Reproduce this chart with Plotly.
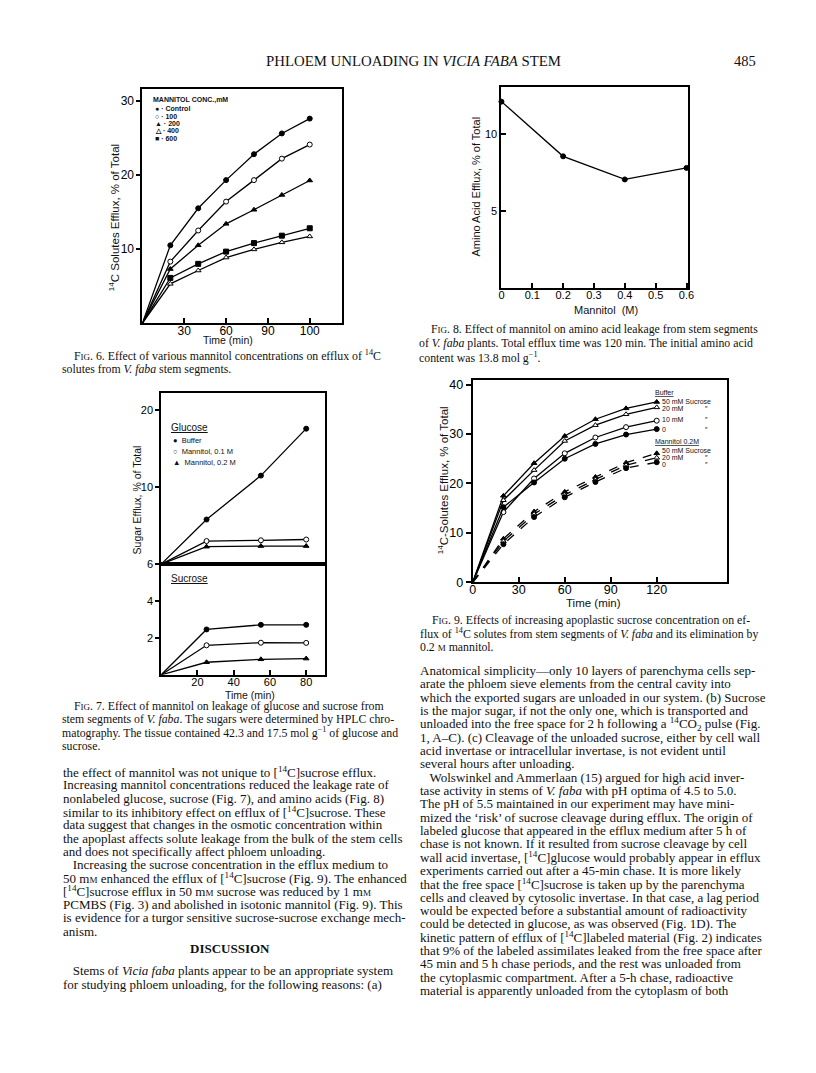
import plotly.graph_objects as go

W, H = 816, 1073
SERIF = "Liberation Serif"
SANS = "Liberation Sans"

# ---- Fig. 6: efflux of 14C solutes vs time, by mannitol conc.
t6 = [0, 20, 40, 60, 80, 100, 120]
t6_ticks = [30, 60, 90, 120]
t6_labels = ["30", "60", "90", "100"]
control = [0, 10.5, 15.5, 19.3, 22.8, 25.6, 27.6]
mann100 = [0, 8.3, 12.5, 16.4, 19.3, 22.2, 24.1]
mann200 = [0, 7.3, 10.5, 13.4, 15.3, 17.3, 19.25]
mann400 = [0, 5.3, 7.1, 8.85, 9.95, 10.9, 11.7]
mann600 = [0, 6.1, 8.0, 9.65, 10.8, 11.8, 12.8]

# ---- Fig. 8: amino acid efflux vs mannitol
mannitol_M = [0, 0.2, 0.4, 0.6]
amino_efflux = [12.1, 8.55, 7.05, 7.8]

# ---- Fig. 7: glucose / sucrose efflux
t7 = [0, 25, 55, 80]
glc_buffer = [0, 5.8, 11.5, 17.6]
glc_mann01 = [0, 3.0, 3.1, 3.2]
glc_mann02 = [0, 2.27, 2.35, 2.35]
suc_buffer = [0, 2.46, 2.71, 2.71]
suc_mann01 = [0, 1.6, 1.74, 1.73]
suc_mann02 = [0, 0.68, 0.84, 0.88]

# ---- Fig. 9: apoplastic sucrose
t9 = [0, 20, 40, 60, 80, 100, 120]
buf50 = [0, 17.5, 24.1, 29.6, 33.0, 35.2, 36.5]
buf20 = [0, 16.6, 22.7, 28.6, 31.8, 34.0, 35.4]
buf10 = [0, 14.2, 21.0, 26.1, 29.3, 31.4, 32.7]
buf0 = [0, 15.2, 20.2, 25.0, 28.0, 29.9, 31.0]
man50 = [0, 8.8, 14.3, 18.3, 21.3, 24.2, 26.1]
man20 = [0, 8.3, 13.8, 17.7, 20.8, 23.7, 25.2]
man0 = [0, 7.7, 13.2, 17.2, 20.3, 23.1, 24.3]

SC = "<span style='font-size:9px'>%s</span>"
FIG = "F" + SC % "IG"
MM = "m" + SC % "M"

left_text = [
    "the effect of mannitol was not unique to [<sup>14</sup>C]sucrose efflux.",
    "Increasing mannitol concentrations reduced the leakage rate of",
    "nonlabeled glucose, sucrose (Fig. 7), and amino acids (Fig. 8)",
    "similar to its inhibitory effect on efflux of [<sup>14</sup>C]sucrose. These",
    "data suggest that changes in the osmotic concentration within",
    "the apoplast affects solute leakage from the bulk of the stem cells",
    "and does not specifically affect phloem unloading.",
    "   Increasing the sucrose concentration in the efflux medium to",
    "50 " + MM + " enhanced the efflux of [<sup>14</sup>C]sucrose (Fig. 9). The enhanced",
    "[<sup>14</sup>C]sucrose efflux in 50 " + MM + " sucrose was reduced by 1 " + MM,
    "PCMBS (Fig. 3) and abolished in isotonic mannitol (Fig. 9). This",
    "is evidence for a turgor sensitive sucrose-sucrose exchange mech-",
    "anism.",
]
discussion = [
    "   Stems of <i>Vicia faba</i> plants appear to be an appropriate system",
    "for studying phloem unloading, for the following reasons: (a)",
]
right_text = [
    "Anatomical simplicity\u2014only 10 layers of parenchyma cells sep-",
    "arate the phloem sieve elements from the central cavity into",
    "which the exported sugars are unloaded in our system. (b) Sucrose",
    "is the major sugar, if not the only one, which is transported and",
    "unloaded into the free space for 2 h following a <sup>14</sup>CO<sub>2</sub> pulse (Fig.",
    "1, A\u2013C). (c) Cleavage of the unloaded sucrose, either by cell wall",
    "acid invertase or intracellular invertase, is not evident until",
    "several hours after unloading.",
    "   Wolswinkel and Ammerlaan (15) argued for high acid inver-",
    "tase activity in stems of <i>V. faba</i> with pH optima of 4.5 to 5.0.",
    "The pH of 5.5 maintained in our experiment may have mini-",
    "mized the \u2018risk\u2019 of sucrose cleavage during efflux. The origin of",
    "labeled glucose that appeared in the efflux medium after 5 h of",
    "chase is not known. If it resulted from sucrose cleavage by cell",
    "wall acid invertase, [<sup>14</sup>C]glucose would probably appear in efflux",
    "experiments carried out after a 45-min chase. It is more likely",
    "that the free space [<sup>14</sup>C]sucrose is taken up by the parenchyma",
    "cells and cleaved by cytosolic invertase. In that case, a lag period",
    "would be expected before a substantial amount of radioactivity",
    "could be detected in glucose, as was observed (Fig. 1D). The",
    "kinetic pattern of efflux of [<sup>14</sup>C]labeled material (Fig. 2) indicates",
    "that 9% of the labeled assimilates leaked from the free space after",
    "45 min and 5 h chase periods, and the rest was unloaded from",
    "the cytoplasmic compartment. After a 5-h chase, radioactive",
    "material is apparently unloaded from the cytoplasm of both",
]
cap6 = [
    FIG + ". 6. Effect of various mannitol concentrations on efflux of <sup>14</sup>C",
    "solutes from <i>V. faba</i> stem segments.",
]
cap7 = [
    FIG + ". 7. Effect of mannitol on leakage of glucose and sucrose from",
    "stem segments of <i>V. faba</i>. The sugars were determined by HPLC chro-",
    "matography. The tissue contained 42.3 and 17.5 mol g<sup>\u22121</sup> of glucose and",
    "sucrose.",
]
cap8 = [
    FIG + ". 8. Effect of mannitol on amino acid leakage from stem segments",
    "of <i>V. faba</i> plants. Total efflux time was 120 min. The initial amino acid",
    "content was 13.8 mol g<sup>\u22121</sup>.",
]
cap9 = [
    FIG + ". 9. Effects of increasing apoplastic sucrose concentration on ef-",
    "flux of <sup>14</sup>C solutes from stem segments of <i>V. faba</i> and its elimination by",
    "0.2 " + SC % "M" + " mannitol.",
]

fig = go.Figure()


def series(x, y, xa, ya, symbol, fill="black", dash="solid", skip_first=True):
    fig.add_trace(go.Scatter(x=x, y=y, xaxis=xa, yaxis=ya, mode="lines",
                             line=dict(color="black", width=1.3, dash=dash),
                             showlegend=False, hoverinfo="skip"))
    i0 = 1 if skip_first else 0
    fig.add_trace(go.Scatter(x=x[i0:], y=y[i0:], xaxis=xa, yaxis=ya, mode="markers",
                             marker=dict(symbol=symbol, size=5, color=fill,
                                         line=dict(color="black", width=1)),
                             showlegend=False, cliponaxis=False))


series(t6, control, "x", "y", "circle")
series(t6, mann100, "x", "y", "circle", fill="white")
series(t6, mann200, "x", "y", "triangle-up")
series(t6, mann400, "x", "y", "triangle-up", fill="white")
series(t6, mann600, "x", "y", "square")

series(mannitol_M, amino_efflux, "x2", "y2", "circle", skip_first=False)

series(t7, glc_buffer, "x3", "y3", "circle")
series(t7, glc_mann01, "x3", "y3", "circle", fill="white")
series(t7, glc_mann02, "x3", "y3", "triangle-up")
series(t7, suc_buffer, "x4", "y4", "circle")
series(t7, suc_mann01, "x4", "y4", "circle", fill="white")
series(t7, suc_mann02, "x4", "y4", "triangle-up")

series(t9, buf50, "x5", "y5", "triangle-up")
series(t9, buf20, "x5", "y5", "triangle-up", fill="white")
series(t9, buf10, "x5", "y5", "circle", fill="white")
series(t9, buf0, "x5", "y5", "circle")
series(t9, man50, "x5", "y5", "triangle-up", dash="dash")
series(t9, man20, "x5", "y5", "triangle-up", fill="white", dash="dash")
series(t9, man0, "x5", "y5", "circle", dash="dash")


def xd(a, b):
    return [a / W, b / W]


def yd(top, bottom):
    return [1 - bottom / H, 1 - top / H]


def axis(domain, rng, anchor, ticks, size, **kw):
    d = dict(domain=domain, range=rng, anchor=anchor, showline=True, linecolor="black",
             linewidth=2, mirror=True, showgrid=False, zeroline=False, ticks=ticks,
             ticklen=5, tickwidth=1.5, tickcolor="black",
             tickfont=dict(family=SANS, size=size, color="black"))
    d.update(kw)
    return d


fig.update_layout(
    width=W, height=H, margin=dict(l=0, r=0, t=0, b=0),
    paper_bgcolor="white", plot_bgcolor="rgba(0,0,0,0)",
    xaxis=axis(xd(141, 343), [0, 143.3], "y", "inside", 12, ticklabelstandoff=-5,
               tickvals=t6_ticks, ticktext=t6_labels),
    yaxis=axis(yd(84, 321), [0, 31.6], "x", "outside", 12, ticklen=4,
               tickvals=[10, 20, 30]),
    xaxis2=axis(xd(504, 693), [0, 0.606], "y2", "inside", 11, ticklabelstandoff=-4,
                tickvals=[0, 0.1, 0.2, 0.3, 0.4, 0.5, 0.6],
                ticktext=["0", "0.1", "0.2", "0.3", "0.4", "0.5", "0.6"]),
    yaxis2=axis(yd(82, 285.5), [0, 13.05], "x2", "inside", 11, tickvals=[5, 10]),
    xaxis3=axis(xd(160, 326), [0, 90.6], "y3", "", 11, showticklabels=False),
    yaxis3=axis(yd(392, 565), [0, 22.2], "x3", "outside", 11, ticklen=4,
                tickvals=[10, 20]),
    xaxis4=axis(xd(160, 326), [0, 90.6], "y4", "inside", 11, ticklabelstandoff=-4,
                tickvals=[20, 40, 60, 80]),
    yaxis4=axis(yd(565, 677), [0, 6.0], "x4", "outside", 11, ticklen=4,
                tickvals=[2, 4, 6]),
    xaxis5=axis(xd(475, 732), [0, 165.8], "y5", "inside", 12.5, ticklabelstandoff=-5,
                tickvals=[0, 30, 60, 90, 120]),
    yaxis5=axis(yd(378.3, 583.3), [0, 41], "x5", "outside", 12.5,
                tickvals=[0, 10, 20, 30, 40]),
)

ann = []


def txt(x, y, s, size=13, family=SERIF, anchor="left", angle=0, color="#111"):
    ann.append(dict(x=x / W, y=1 - y / H, xref="paper", yref="paper", text=s,
                    showarrow=False, xanchor=anchor, yanchor="middle", textangle=angle,
                    font=dict(family=family, size=size, color=color)))


# running head
txt(415, 56, "PHLOEM UNLOADING IN <i>VICIA FABA</i> STEM", size=14.8, anchor="center")
txt(750, 56, "485", size=14.5, anchor="center")

# Fig 6 labels
txt(113, 214, "<sup>14</sup>C Solutes Efflux, % of Total", size=11.5, family=SANS,
    anchor="center", angle=-90)
txt(228, 338, "Time (min)", size=10.5, family=SANS, anchor="center")
txt(150, 95, "<b>MANNITOL CONC.,mM</b>", size=7, family=SANS)
for i, (sym, lab) in enumerate([("\u25cf", "Control"), ("\u25cb", "100"), ("\u25b2", "200"),
                                ("\u25b3", "400"), ("\u25a0", "600")]):
    txt(152, 104 + i * 7.6, "<b>%s \u00b7 %s</b>" % (sym, lab), size=7, family=SANS)

# Fig 8 labels
txt(478, 183, "Amino Acid Efflux, % of Total", size=11, family=SANS,
    anchor="center", angle=-90)
txt(610, 308, "Mannitol  (M)", size=11, family=SANS, anchor="center")

# Fig 7 labels
txt(135, 500, "Sugar Efflux, % of Total", size=10.5, family=SANS, anchor="center",
    angle=-90)
txt(250, 697, "Time (min)", size=10.5, family=SANS, anchor="center")
txt(168, 427, "<u>Glucose</u>", size=10, family=SANS)
for i, (sym, lab) in enumerate([("\u25cf", "Buffer"), ("\u25cb", "Mannitol, 0.1 M"),
                                ("\u25b2", "Mannitol, 0.2 M")]):
    txt(170, 440 + i * 11, "%s  %s" % (sym, lab), size=7.5, family=SANS)
txt(168, 580, "<u>Sucrose</u>", size=10, family=SANS)

# Fig 9 labels
txt(445, 480, "<sup>14</sup>C-Solutes Efflux, % of Total", size=11.5, family=SANS,
    anchor="center", angle=-90)
txt(596.7, 604.5, "Time (min)", size=11.5, family=SANS, anchor="center")
txt(657, 391, "<u>Buffer</u>", size=7, family=SANS)
txt(664, 400.5, "50 mM Sucrose", size=7, family=SANS)
txt(664, 407.5, "20 mM", size=7, family=SANS)
txt(664, 419, "10 mM", size=7, family=SANS)
txt(664, 429, "0", size=7, family=SANS)
txt(657, 441, "<u>Mannitol 0.2M</u>", size=7, family=SANS)
txt(664, 450, "50 mM Sucrose", size=7, family=SANS)
txt(664, 457, "20 mM", size=7, family=SANS)
txt(664, 464, "0", size=7, family=SANS)
for yy in [407.5, 419, 429, 457, 464]:
    txt(708, yy, "\u2033", size=7, family=SANS)

# captions
for i, s in enumerate(cap6):
    txt(70 if i == 0 else 58, 354 + i * 13.5, s, size=11.8)
for i, s in enumerate(cap7):
    txt(70 if i == 0 else 58, 709 + i * 13.2, s, size=11.8)
for i, s in enumerate(cap8):
    txt(431 if i == 0 else 419, 326.5 + i * 14.5, s, size=11.8)
for i, s in enumerate(cap9):
    txt(431.7 if i == 0 else 419.3, 621.7 + i * 13.8, s, size=11.8)

# body text
for i, s in enumerate(left_text):
    txt(58.3, 775 + i * 13.47, s)
txt(230, 954, "<b>DISCUSSION</b>", size=13, anchor="center")
for i, s in enumerate(discussion):
    txt(58.3, 976 + i * 14, s)
for i, s in enumerate(right_text):
    txt(419.3, 672.7 + i * 13.5, s)

fig.update_layout(annotations=ann)
fig.write_html("out.html", config={"displayModeBar": False},
               post_script="document.body.style.margin='0';document.body.style.overflow='hidden';")
